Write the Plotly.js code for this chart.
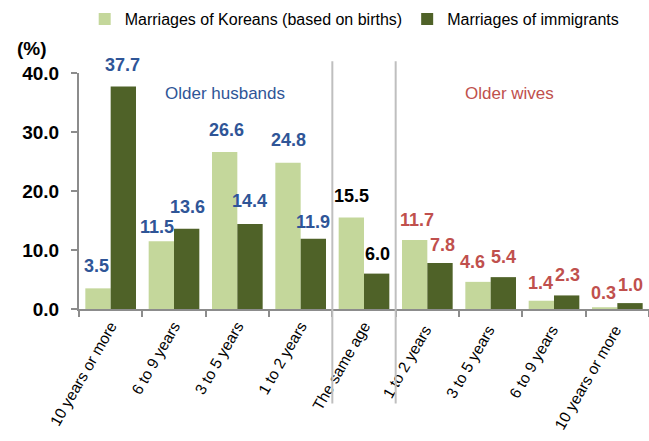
<!DOCTYPE html>
<html><head><meta charset="utf-8">
<script src="https://cdn.plot.ly/plotly-3.0.1.min.js"></script>
<style>body{margin:0;background:#fff}#c{width:649px;height:441px}</style>
</head><body><div id="c"></div>
<script>
const categories = ["10 years or more","6 to 9 years","3 to 5 years","1 to 2 years","The same age","1 to 2 years ","3 to 5 years ","6 to 9 years ","10 years or more "];
const koreans = [3.5, 11.5, 26.6, 24.8, 15.5, 11.7, 4.6, 1.4, 0.3];
const immigrants = [37.7, 13.6, 14.4, 11.9, 6.0, 7.8, 5.4, 2.3, 1.0];
const labelColors = ["#2F5597","#2F5597","#2F5597","#2F5597","#000000","#C0504D","#C0504D","#C0504D","#C0504D"];
const seriesNames = ["Marriages of Koreans (based on births)", "Marriages of immigrants"];
const groupNames = ["Older husbands", "Older wives"];

// label offsets (style only)
const kLift = [10, 2, 10, 11, 10, 8, 8, 6, 2];
const iLift = [10, 10, 11, 5, 8, 6, 8, 8, 6];
const kShift = [-14, -17, -11, -12, -13, -10, -18, -14, -14];
const iShift = [12, 13, 12, 12, 13, 15, 13, 13, 13];

const narrow = '"Liberation Sans Narrow", "Arial Narrow", "Liberation Sans", Arial, sans-serif';
const lblFamily = 'Arial, "Liberation Sans", sans-serif';

const traces = [
  {type:'bar', name: seriesNames[0], x: categories, y: koreans, marker:{color:'#C4D79B'}, hoverinfo:'none'},
  {type:'bar', name: seriesNames[1], x: categories, y: immigrants, marker:{color:'#4F6228'}, hoverinfo:'none'}
];

const valueAnns = [];
categories.forEach((c, i) => {
  valueAnns.push({x:c, y:koreans[i], xref:'x', yref:'y', text:'<b>'+koreans[i].toFixed(1)+'</b>',
    showarrow:false, yanchor:'bottom', xanchor:'center', xshift:kShift[i], yshift:kLift[i],
    font:{family:lblFamily, size:18, color:labelColors[i]}});
  valueAnns.push({x:c, y:immigrants[i], xref:'x', yref:'y', text:'<b>'+immigrants[i].toFixed(1)+'</b>',
    showarrow:false, yanchor:'bottom', xanchor:'center', xshift:iShift[i], yshift:iLift[i],
    font:{family:lblFamily, size:18, color:labelColors[i]}});
});

const layout = {
  width:649, height:441,
  margin:{l:79, r:0, t:73, b:132},
  barmode:'group', bargap:0.2, bargroupgap:0,
  showlegend:true,
  legend:{orientation:'h', x:0.01, y:1.3, yanchor:'top', xanchor:'left',
    font:{family:narrow, size:16, color:'#000'}, itemwidth:20, traceorder:'normal'},
  plot_bgcolor:'#fff', paper_bgcolor:'#fff',
  xaxis:{type:'category', tickangle:-60, tickfont:{family:narrow, size:15.5, color:'#000'},
    showline:true, linecolor:'#8C8C8C', linewidth:2, ticks:'outside', tickson:'boundaries',
    ticklen:6, tickcolor:'#8C8C8C', tickwidth:2, showgrid:false, automargin:false},
  yaxis:{range:[0,40], dtick:10, tickformat:'.1f', showgrid:false, zeroline:false,
    showline:true, linecolor:'#8C8C8C', linewidth:2, ticks:'outside', ticklen:6,
    tickcolor:'#8C8C8C', tickwidth:2, ticklabelstandoff:8,
    tickfont:{family:lblFamily, size:19, color:'#000', weight:'bold'}},
  shapes:[
    {type:'line', xref:'x', yref:'paper', x0:3.5, x1:3.5, y0:-0.4, y1:1.05, line:{color:'#BFBFBF', width:2}},
    {type:'line', xref:'x', yref:'paper', x0:4.5, x1:4.5, y0:-0.4, y1:1.05, line:{color:'#BFBFBF', width:2}}
  ],
  annotations:[
    {text: groupNames[0], xref:'x', yref:'paper', x:1.8, y:0.96, showarrow:false,
     font:{family:narrow, size:17, color:'#2F5597'}},
    {text: groupNames[1], xref:'x', yref:'paper', x:6.3, y:0.96, showarrow:false,
     font:{family:narrow, size:17, color:'#C0504D'}},
    {text:'<b>(%)</b>', xref:'paper', yref:'paper', x:-0.083, y:1.155, xanchor:'center', showarrow:false,
     font:{family:lblFamily, size:19, color:'#000'}}
  ].concat(valueAnns)
};
Plotly.newPlot('c', traces, layout, {displayModeBar:false, staticPlot:true});
</script></body></html>
